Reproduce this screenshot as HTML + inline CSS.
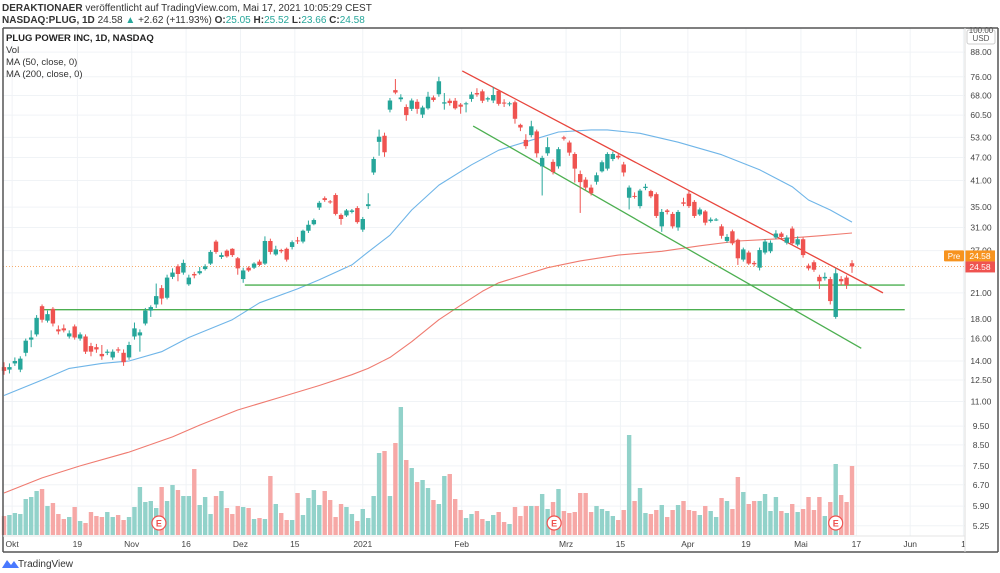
<!DOCTYPE html>
<html><head><meta charset="utf-8">
<style>
html,body{margin:0;padding:0;background:#fff;width:1000px;height:573px;overflow:hidden;font-family:"Liberation Sans",sans-serif;}
svg{position:absolute;left:0;top:0}
text{font-family:"Liberation Sans",sans-serif}
</style></head>
<body>
<svg id="chart" width="1000" height="573" xmlns="http://www.w3.org/2000/svg">
  <rect x="0" y="0" width="1000" height="573" fill="#fff"/>
  <g id="grid"></g>
  <g id="vol"></g>
  <g id="ma"></g>
  <g id="draw"></g>
  <g id="candles"></g>
  <g id="yaxis"></g>
  <g id="xaxis"></g>
  <line x1="3" y1="28" x2="3" y2="552" stroke="#555" stroke-width="1.5"/>
  <line x1="3" y1="28" x2="998" y2="28" stroke="#555" stroke-width="1.5"/>
  <line x1="998" y1="28" x2="998" y2="552" stroke="#555" stroke-width="1.5"/>
  <line x1="3" y1="552" x2="998" y2="552" stroke="#555" stroke-width="1.5"/>
  <line x1="965" y1="28" x2="965" y2="552" stroke="#ddd" stroke-width="1"/>
  <line x1="3" y1="536" x2="965" y2="536" stroke="#e4e4e4" stroke-width="1"/>
  <text x="2" y="11" font-size="10" fill="#333"><tspan font-weight="bold">DERAKTIONAER</tspan> veröffentlicht auf TradingView.com, Mai 17, 2021 10:05:29 CEST</text>
  <text x="2" y="23" font-size="10" fill="#333"><tspan font-weight="bold">NASDAQ:PLUG, 1D</tspan> 24.58 <tspan fill="#26a69a">▲</tspan> +2.62 (+11.93%) <tspan font-weight="bold">O:</tspan><tspan fill="#26a69a">25.05</tspan> <tspan font-weight="bold">H:</tspan><tspan fill="#26a69a">25.52</tspan> <tspan font-weight="bold">L:</tspan><tspan fill="#26a69a">23.66</tspan> <tspan font-weight="bold">C:</tspan><tspan fill="#26a69a">24.58</tspan></text>
  <text x="6" y="41" font-size="9.5" fill="#222" font-weight="bold">PLUG POWER INC, 1D, NASDAQ</text>
  <text x="6" y="53" font-size="9.5" fill="#333">Vol</text>
  <text x="6" y="65" font-size="9.5" fill="#333">MA (50, close, 0)</text>
  <text x="6" y="77" font-size="9.5" fill="#333">MA (200, close, 0)</text>
  <rect x="967" y="30" width="28" height="14" fill="#fff" stroke="#ccc" rx="2"/>
  <text x="981" y="33" font-size="8" fill="#555" text-anchor="middle">100.00</text>
  <text x="981" y="41" font-size="8" fill="#555" text-anchor="middle">USD</text>
  <g>
    <path d="M2 568 L7 560 L11 565 L14 561 L19 568 Z" fill="#2962ff" opacity="0.85"/>
    <text x="18" y="567" font-size="10" fill="#333">TradingView</text>
  </g>
</svg>
<script>
const opens=[13.5,13.3,13.8,13.3,14.7,15.9,16.4,19.4,17.8,19.1,16.9,17.0,16.2,17.2,16.0,16.2,15.3,15.2,14.6,14.7,14.3,15.0,14.7,14.3,16.2,16.3,17.5,18.9,19.6,21.6,20.4,23.1,24.6,23.7,22.1,23.5,23.6,24.2,25.0,28.5,26.0,27.0,27.3,25.8,22.8,24.4,24.4,25.3,25.0,28.6,26.4,27.1,27.3,27.6,28.7,28.5,30.4,31.6,34.9,36.9,36.2,37.6,33.4,33.3,34.0,34.8,30.6,35.2,43.0,51.6,53.5,62.5,70.2,66.5,63.5,62.8,65.5,60.7,63.0,67.2,68.5,64.8,65.9,65.9,64.4,64.6,66.6,69.0,69.7,66.4,66.0,69.9,65.2,64.6,65.3,57.1,52.2,53.7,54.9,44.6,48.2,45.8,44.6,53.0,51.4,48.0,42.6,41.2,39.3,40.7,43.3,44.0,46.6,47.5,45.1,37.0,37.4,35.2,39.2,38.5,37.8,31.2,34.3,33.6,31.0,36.0,37.9,36.1,33.5,34.1,32.2,32.4,31.2,28.6,30.3,28.8,25.6,26.7,25.1,24.4,26.7,26.9,29.2,29.9,28.3,30.8,28.0,28.9,24.7,25.2,23.1,22.9,22.8,18.2,22.8,23.0,25.05];
const highs=[13.9,13.8,14.3,14.4,16.0,16.8,18.4,19.6,18.9,19.3,17.3,17.4,16.8,17.4,16.6,16.4,15.6,15.5,15.4,15.0,15.0,15.2,15.0,15.7,17.6,16.9,19.2,19.5,22.2,22.0,23.4,24.3,24.9,25.6,23.4,23.8,24.5,24.9,27.1,28.8,26.7,27.2,27.4,26.0,24.4,24.6,25.2,25.6,29.4,29.0,27.8,27.3,27.5,28.7,29.3,30.6,32.3,32.7,36.3,37.3,36.5,38.0,33.7,34.6,34.6,35.2,33.0,38.0,47.2,55.5,54.5,67.0,75.0,68.5,64.5,66.8,66.5,64.0,69.5,68.0,76.0,69.0,66.8,67.0,65.0,65.5,69.5,71.0,70.5,67.5,71.5,70.5,66.5,65.5,66.0,57.5,54.0,58.5,55.5,47.5,53.0,46.5,50.0,53.5,52.0,48.5,43.5,41.8,40.0,43.0,46.2,48.5,48.7,48.2,45.8,39.8,38.2,39.0,40.2,38.8,38.2,34.6,34.6,34.0,34.4,37.0,38.5,36.5,34.9,34.4,32.9,32.8,31.6,29.8,30.6,29.0,27.5,27.0,25.4,27.5,28.9,28.7,30.5,30.2,29.6,31.2,29.4,29.2,25.0,25.5,23.4,23.7,23.1,24.3,23.2,23.3,25.52];
const lows=[12.9,13.0,13.6,13.1,14.4,15.2,16.2,17.6,17.6,17.2,16.4,16.6,16.0,15.9,15.8,14.6,14.4,14.7,14.1,14.5,14.1,14.7,13.6,14.1,15.9,14.8,17.3,18.2,19.2,19.6,20.2,22.8,22.5,23.4,21.9,22.9,23.4,24.0,24.8,26.5,25.7,25.9,26.0,23.4,22.3,23.8,24.2,24.6,24.8,26.4,26.2,26.6,25.3,27.2,28.1,28.2,30.0,31.4,34.4,36.1,35.7,33.3,31.5,33.0,33.7,31.7,30.2,34.6,42.4,47.5,47.2,61.5,68.5,65.5,58.5,62.0,61.0,59.5,62.5,65.5,67.5,62.5,64.0,62.5,61.0,61.5,65.5,67.5,65.0,65.5,65.0,64.0,63.5,63.8,57.5,55.0,49.5,53.0,47.0,37.5,47.5,42.5,44.0,52.0,47.5,40.5,33.8,38.7,37.5,40.0,43.0,43.5,46.0,46.5,42.0,34.5,36.8,34.7,38.7,36.9,32.8,30.2,33.5,30.8,30.4,35.2,34.8,32.8,33.2,31.4,31.9,32.2,29.0,28.3,27.9,24.8,25.3,24.8,24.6,24.0,26.4,26.6,28.9,29.0,28.0,27.9,27.7,25.9,24.0,23.8,21.5,22.6,19.6,18.0,22.0,21.5,23.66];
const closes=[13.2,13.5,14.0,14.2,15.8,16.1,18.1,17.9,18.5,17.5,16.7,16.8,16.5,16.1,16.4,14.8,14.8,15.0,14.4,14.8,14.8,14.9,13.9,15.4,17.0,16.6,18.9,19.3,20.6,20.3,23.0,23.7,23.5,25.1,23.0,23.3,23.9,24.6,26.8,26.8,26.3,26.1,26.3,24.3,24.0,24.0,25.0,24.8,28.6,26.8,27.2,26.9,25.6,28.4,28.6,30.4,31.5,32.4,35.9,36.5,36.0,33.6,32.6,34.3,34.3,32.0,32.6,35.6,46.6,53.2,48.5,66.0,69.2,67.2,60.5,66.0,62.8,63.3,67.5,66.2,74.0,65.3,65.0,63.0,63.6,64.9,68.4,68.4,65.9,66.9,68.2,64.7,64.8,64.9,59.2,56.2,50.3,56.6,48.2,46.9,50.0,43.1,49.4,52.6,48.4,44.0,40.6,39.3,38.0,42.3,45.7,48.0,48.0,47.0,43.0,39.3,37.2,38.6,39.5,37.3,33.2,34.0,34.0,31.2,34.0,35.7,35.2,33.2,34.5,31.9,32.5,32.5,29.5,29.3,28.2,25.8,27.2,25.0,24.9,27.1,28.5,28.3,29.9,29.3,29.2,28.2,28.9,26.3,24.3,24.1,22.5,23.1,20.0,23.6,22.5,22.0,24.58];
const volumes=[19,20,22,21,36,38,44,46,29,32,21,16,18,28,14,12,23,19,18,23,18,20,15,18,28,48,33,34,27,48,34,50,45,39,39,66,30,38,21,39,44,27,21,29,28,27,16,17,16,59,31,22,15,15,42,20,37,45,30,44,35,18,31,28,21,14,26,17,39,82,84,39,92,128,75,67,53,55,47,35,31,59,61,36,25,17,21,24,16,14,20,23,13,11,28,19,29,29,29,41,26,33,46,24,22,23,42,42,23,29,26,24,19,15,25,100,34,47,22,21,25,30,18,25,30,34,25,24,20,29,24,18,37,34,26,58,43,31,34,34,41,24,38,24,22,31,23,26,38,25,38,19,33,71,40,33,69];
const ma50Idx=[0,7,12,18,23,29,34,42,47,54,58,64,67,71,75,80,86,91,97,102,108,111,117,124,132,139,145,148,152,156];
const ma50Val=[11.4,12.5,13.4,13.8,14.0,14.8,16.1,17.9,19.8,21.5,22.7,24.8,26.8,29.6,34.4,39.9,45.0,49.1,52.1,54.7,55.4,55.4,54.3,51.5,47.8,43.7,39.5,36.5,34.4,32.0];
const ma200Idx=[0,7,14,23,31,36,43,51,58,64,67,71,75,80,84,88,91,95,100,106,113,121,128,135,143,150,156];
const ma200Val=[6.38,6.98,7.5,8.14,8.91,9.56,10.46,11.3,12.1,12.9,13.4,14.3,15.7,17.9,19.5,21.2,22.3,23.2,24.4,25.4,26.3,26.9,27.8,28.6,29.0,29.5,30.0];
const yTicks=[88,76,68,60.5,53,47,41,35,31,27,21,18,16,14,12.5,11,9.5,8.5,7.5,6.7,5.9,5.25];
const xTickLabels=["Okt","19","Nov","16","Dez","15","2021","Feb","Mrz","15","Apr","19","Mai","17","Jun","1"];
const xTickIdx=[1.5,13.5,23.5,33.5,43.5,53.5,66,84.2,103.4,113.4,125.8,136.5,146.6,156.8,166.7,176.5];
const earningsIdx=[28.5,101.2,153];
const lastPrice=24.58;

const NS="http://www.w3.org/2000/svg";
function X(i){return 4+5.436*i;}
function Y(p){return 361-168*Math.log(p/14);}
function VY(v){return 535-v;}
function mk(tag,attrs,parent){const e=document.createElementNS(NS,tag);for(const k in attrs)e.setAttribute(k,attrs[k]);parent.appendChild(e);return e;}
const G=id=>document.getElementById(id);

// grid
yTicks.forEach(t=>{
  const l=mk('line',{x1:3,x2:965,y1:Y(t),y2:Y(t),stroke:'#f0f3f6','stroke-width':1},G('grid'));
  
  
  const tx=mk('text',{x:981,y:Y(t)+3,'font-size':8.5,fill:'#444','text-anchor':'middle'},G('yaxis'));
  tx.textContent=t.toFixed(2);
  
  
});
xTickIdx.forEach((ix,k)=>{
  const l=mk('line',{x1:X(ix),x2:X(ix),y1:28,y2:536,stroke:'#f0f3f6','stroke-width':1},G('grid'));
  
  
  const tx=mk('text',{x:X(ix),y:547,'font-size':8.5,fill:'#444','text-anchor':'middle'},G('xaxis'));
  tx.textContent=xTickLabels[k];
  
  
});

// volume
volumes.forEach((v,i)=>{
  const up=closes[i]>=opens[i];
  const r=mk('rect',{x:X(i)-2.2,y:VY(v),width:4.4,height:v,fill:up?'#92d2ca':'#f6a8a6'},G('vol'));
  
  
});

// MAs
function poly(idx,vals,color,name){
  const pts=idx.map((ix,k)=>X(ix).toFixed(1)+','+Y(vals[k]).toFixed(1)).join(' ');
  const p=mk('polyline',{points:pts,fill:'none',stroke:color,'stroke-width':1.1,'stroke-linejoin':'round'},G('ma'));
  
  
}
poly(ma50Idx,ma50Val,'#6fb5e8','ma50-line');
poly(ma200Idx,ma200Val,'#ef7b70','ma200-line');

// drawings
function seg(i1,p1,i2,p2,color,name){
  const l=mk('line',{x1:X(i1),y1:Y(p1),x2:X(i2),y2:Y(p2),stroke:color,'stroke-width':1.3},G('draw'));
  
  
}
seg(84.3,78.7,161.7,21.0,'#e8453c','resistance-trendline');
seg(86.3,56.7,157.7,15.1,'#4caf50','support-trendline');
seg(44.3,22.0,165.7,22.0,'#4caf50','support-level-22');
seg(6.6,19.0,165.7,19.0,'#4caf50','support-level-19');
const pl=mk('line',{x1:3,x2:965,y1:Y(lastPrice),y2:Y(lastPrice),stroke:'#f5a35c','stroke-width':0.8,'stroke-dasharray':'1,2'},G('draw'));



// candles
closes.forEach((c,i)=>{
  const o=opens[i],up=c>=o,col=up?'#26a69a':'#ef5350';
  const w=mk('line',{x1:X(i),x2:X(i),y1:Y(highs[i]),y2:Y(lows[i]),stroke:col,'stroke-width':1},G('candles'));
  
  
  const t=Y(Math.max(o,c)),b=Y(Math.min(o,c));
  const r=mk('rect',{x:X(i)-2.2,y:t,width:4.4,height:Math.max(1,b-t),fill:col},G('candles'));
  
  
});

// earnings markers
earningsIdx.forEach(ix=>{
  const g=mk('g',{},G('vol'));
  
  
  mk('circle',{cx:X(ix),cy:523,r:7,fill:'#fff',stroke:'#ef5350','stroke-width':1.2},g);
  const t=mk('text',{x:X(ix),y:526.5,'font-size':9,fill:'#ef5350','text-anchor':'middle','font-weight':'bold'},g);
  t.textContent='E';
});

// price labels
const ya=G('yaxis');
const pb=mk('rect',{x:944,y:Y(lastPrice)-16,width:20,height:11,fill:'#f7931e',rx:1},ya);


const pt=mk('text',{x:954,y:Y(lastPrice)-7.5,'font-size':8,fill:'#fff','text-anchor':'middle'},ya);
pt.textContent='Pre';
const ob=mk('rect',{x:965,y:Y(lastPrice)-16,width:30,height:11,fill:'#f7931e'},ya);


const ot=mk('text',{x:980,y:Y(lastPrice)-7.5,'font-size':8.5,fill:'#fff','text-anchor':'middle'},ya);
ot.textContent=lastPrice.toFixed(2);
const rb=mk('rect',{x:965,y:Y(lastPrice)-5,width:30,height:11,fill:'#ef5350'},ya);


const rt=mk('text',{x:980,y:Y(lastPrice)+3.5,'font-size':8.5,fill:'#fff','text-anchor':'middle'},ya);
rt.textContent=lastPrice.toFixed(2);
</script>
</body></html>
